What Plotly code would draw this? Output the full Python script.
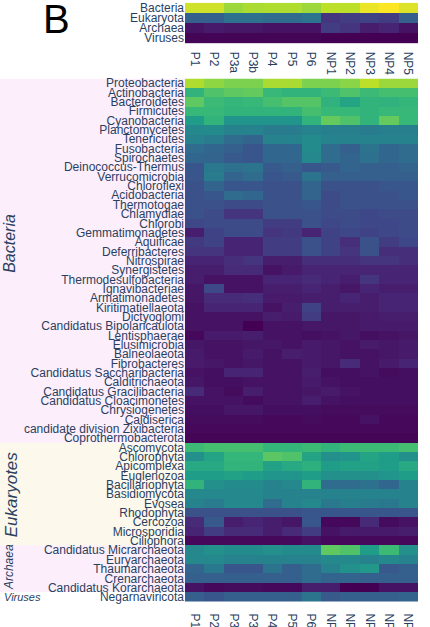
import plotly.graph_objects as go

samples = ["P1", "P2", "P3a", "P3b", "P4", "P5", "P6", "NP1", "NP2", "NP3", "NP4", "NP5"]

kingdoms = ["Bacteria", "Eukaryota", "Archaea", "Viruses"]
kingdom_vals = [
    [0.93, 0.93, 0.85, 0.87, 0.88, 0.88, 0.85, 0.90, 0.90, 0.97, 1.00, 0.95],
    [0.30, 0.30, 0.37, 0.37, 0.35, 0.35, 0.38, 0.15, 0.18, 0.20, 0.18, 0.30],
    [0.05, 0.07, 0.06, 0.06, 0.05, 0.05, 0.05, 0.18, 0.15, 0.08, 0.10, 0.05],
    [0.01, 0.01, 0.01, 0.01, 0.01, 0.01, 0.01, 0.00, 0.00, 0.00, 0.00, 0.00],
]

phyla = [
    "Proteobacteria", "Actinobacteria", "Bacteroidetes", "Firmicutes", "Cyanobacteria",
    "Planctomycetes", "Tenericutes", "Fusobacteria", "Spirochaetes", "Deinococcus-Thermus",
    "Verrucomicrobia", "Chloroflexi", "Acidobacteria", "Thermotogae", "Chlamydiae",
    "Chlorobi", "Gemmatimonadetes", "Aquificae", "Deferribacteres", "Nitrospirae",
    "Synergistetes", "Thermodesulfobacteria", "Ignavibacteriae", "Armatimonadetes",
    "Kiritimatiellaeota", "Dictyoglomi", "Candidatus Bipolaricaulota", "Lentisphaerae",
    "Elusimicrobia", "Balneolaeota", "Fibrobacteres", "Candidatus Saccharibacteria",
    "Calditrichaeota", "Candidatus Gracilibacteria", "Candidatus Cloacimonetes",
    "Chrysiogenetes", "Caldiserica", "candidate division Zixibacteria", "Coprothermobacterota",
    "Ascomycota", "Chlorophyta", "Apicomplexa", "Euglenozoa", "Bacillariophyta",
    "Basidiomycota", "Evosea", "Rhodophyta", "Cercozoa", "Microsporidia", "Ciliophora",
    "Candidatus Micrarchaeota", "Euryarchaeota", "Thaumarchaeota", "Crenarchaeota",
    "Candidatus Korarchaeota", "Negarnaviricota",
]

phyla_vals = [
    [0.88, 0.83, 0.80, 0.80, 0.87, 0.87, 0.80, 0.80, 0.82, 0.90, 0.85, 0.85],
    [0.65, 0.72, 0.75, 0.76, 0.67, 0.65, 0.65, 0.68, 0.72, 0.68, 0.70, 0.70],
    [0.75, 0.68, 0.66, 0.67, 0.70, 0.73, 0.73, 0.64, 0.58, 0.65, 0.64, 0.66],
    [0.67, 0.67, 0.65, 0.65, 0.65, 0.65, 0.70, 0.67, 0.67, 0.65, 0.67, 0.67],
    [0.55, 0.65, 0.52, 0.52, 0.52, 0.52, 0.65, 0.76, 0.72, 0.65, 0.76, 0.67],
    [0.47, 0.48, 0.45, 0.45, 0.42, 0.42, 0.45, 0.43, 0.43, 0.42, 0.43, 0.43],
    [0.45, 0.42, 0.35, 0.32, 0.45, 0.45, 0.48, 0.45, 0.45, 0.45, 0.45, 0.45],
    [0.35, 0.33, 0.30, 0.27, 0.33, 0.33, 0.48, 0.35, 0.30, 0.38, 0.33, 0.35],
    [0.33, 0.32, 0.28, 0.27, 0.33, 0.33, 0.47, 0.35, 0.32, 0.37, 0.33, 0.35],
    [0.27, 0.40, 0.37, 0.38, 0.28, 0.30, 0.27, 0.28, 0.32, 0.30, 0.30, 0.32],
    [0.27, 0.42, 0.32, 0.35, 0.27, 0.28, 0.38, 0.30, 0.30, 0.30, 0.30, 0.30],
    [0.25, 0.32, 0.27, 0.27, 0.25, 0.25, 0.32, 0.25, 0.25, 0.25, 0.27, 0.27],
    [0.25, 0.27, 0.35, 0.33, 0.25, 0.25, 0.32, 0.23, 0.25, 0.25, 0.25, 0.27],
    [0.25, 0.25, 0.23, 0.23, 0.25, 0.25, 0.27, 0.23, 0.25, 0.25, 0.25, 0.25],
    [0.25, 0.23, 0.15, 0.15, 0.25, 0.25, 0.25, 0.23, 0.23, 0.22, 0.23, 0.23],
    [0.22, 0.23, 0.23, 0.23, 0.18, 0.18, 0.25, 0.22, 0.23, 0.22, 0.22, 0.23],
    [0.08, 0.20, 0.23, 0.23, 0.15, 0.17, 0.10, 0.20, 0.22, 0.20, 0.22, 0.23],
    [0.17, 0.20, 0.10, 0.10, 0.18, 0.18, 0.25, 0.20, 0.13, 0.25, 0.18, 0.22],
    [0.15, 0.15, 0.10, 0.10, 0.18, 0.18, 0.25, 0.20, 0.15, 0.25, 0.13, 0.13],
    [0.10, 0.10, 0.13, 0.15, 0.08, 0.08, 0.13, 0.13, 0.13, 0.15, 0.15, 0.13],
    [0.08, 0.08, 0.12, 0.12, 0.05, 0.07, 0.10, 0.10, 0.10, 0.10, 0.10, 0.10],
    [0.08, 0.05, 0.05, 0.05, 0.10, 0.10, 0.12, 0.10, 0.08, 0.15, 0.10, 0.10],
    [0.06, 0.22, 0.05, 0.05, 0.08, 0.08, 0.10, 0.08, 0.06, 0.10, 0.08, 0.08],
    [0.06, 0.12, 0.12, 0.13, 0.07, 0.07, 0.08, 0.08, 0.10, 0.08, 0.10, 0.10],
    [0.05, 0.10, 0.10, 0.10, 0.05, 0.08, 0.20, 0.08, 0.08, 0.08, 0.10, 0.10],
    [0.05, 0.05, 0.05, 0.05, 0.08, 0.07, 0.18, 0.06, 0.06, 0.07, 0.08, 0.08],
    [0.05, 0.05, 0.05, 0.00, 0.05, 0.05, 0.06, 0.06, 0.06, 0.07, 0.07, 0.07],
    [0.02, 0.07, 0.07, 0.08, 0.05, 0.05, 0.04, 0.05, 0.06, 0.04, 0.05, 0.06],
    [0.06, 0.05, 0.05, 0.06, 0.06, 0.05, 0.07, 0.06, 0.05, 0.07, 0.06, 0.07],
    [0.07, 0.05, 0.05, 0.07, 0.05, 0.08, 0.07, 0.06, 0.05, 0.05, 0.06, 0.07],
    [0.07, 0.06, 0.05, 0.06, 0.05, 0.05, 0.07, 0.06, 0.12, 0.05, 0.07, 0.10],
    [0.05, 0.04, 0.10, 0.10, 0.05, 0.05, 0.08, 0.04, 0.04, 0.05, 0.03, 0.04],
    [0.06, 0.04, 0.04, 0.05, 0.05, 0.05, 0.07, 0.05, 0.04, 0.04, 0.04, 0.04],
    [0.12, 0.05, 0.03, 0.08, 0.05, 0.05, 0.06, 0.07, 0.05, 0.04, 0.04, 0.04],
    [0.05, 0.05, 0.05, 0.03, 0.05, 0.05, 0.08, 0.05, 0.04, 0.04, 0.04, 0.04],
    [0.04, 0.04, 0.06, 0.06, 0.04, 0.04, 0.04, 0.03, 0.03, 0.03, 0.03, 0.03],
    [0.03, 0.03, 0.03, 0.03, 0.02, 0.02, 0.03, 0.02, 0.02, 0.05, 0.02, 0.02],
    [0.02, 0.02, 0.02, 0.02, 0.02, 0.02, 0.02, 0.02, 0.02, 0.02, 0.02, 0.02],
    [0.01, 0.01, 0.01, 0.01, 0.01, 0.01, 0.01, 0.01, 0.01, 0.01, 0.01, 0.01],
    [0.68, 0.70, 0.70, 0.70, 0.66, 0.66, 0.68, 0.65, 0.68, 0.68, 0.68, 0.70],
    [0.50, 0.58, 0.66, 0.66, 0.74, 0.72, 0.58, 0.50, 0.52, 0.58, 0.55, 0.50],
    [0.60, 0.60, 0.65, 0.65, 0.57, 0.60, 0.63, 0.55, 0.57, 0.57, 0.55, 0.60],
    [0.55, 0.55, 0.57, 0.55, 0.52, 0.52, 0.55, 0.50, 0.50, 0.50, 0.52, 0.55],
    [0.65, 0.50, 0.48, 0.48, 0.45, 0.47, 0.65, 0.35, 0.35, 0.37, 0.33, 0.45],
    [0.47, 0.47, 0.47, 0.47, 0.45, 0.45, 0.45, 0.45, 0.45, 0.45, 0.45, 0.45],
    [0.45, 0.42, 0.47, 0.47, 0.35, 0.45, 0.47, 0.40, 0.43, 0.42, 0.40, 0.45],
    [0.25, 0.25, 0.25, 0.25, 0.25, 0.25, 0.27, 0.27, 0.27, 0.27, 0.27, 0.27],
    [0.12, 0.28, 0.08, 0.10, 0.08, 0.06, 0.27, 0.02, 0.02, 0.12, 0.03, 0.05],
    [0.10, 0.18, 0.12, 0.12, 0.08, 0.12, 0.18, 0.05, 0.07, 0.07, 0.07, 0.08],
    [0.02, 0.02, 0.02, 0.02, 0.02, 0.02, 0.05, 0.02, 0.02, 0.02, 0.02, 0.02],
    [0.47, 0.50, 0.48, 0.48, 0.50, 0.48, 0.48, 0.75, 0.72, 0.55, 0.68, 0.50],
    [0.47, 0.47, 0.45, 0.45, 0.45, 0.45, 0.45, 0.47, 0.47, 0.45, 0.47, 0.45],
    [0.32, 0.40, 0.27, 0.27, 0.38, 0.30, 0.35, 0.45, 0.50, 0.53, 0.28, 0.30],
    [0.30, 0.30, 0.30, 0.30, 0.30, 0.30, 0.35, 0.32, 0.32, 0.30, 0.30, 0.30],
    [0.05, 0.02, 0.03, 0.03, 0.02, 0.02, 0.08, 0.08, 0.00, 0.00, 0.05, 0.05],
    [0.30, 0.27, 0.30, 0.30, 0.30, 0.30, 0.38, 0.28, 0.30, 0.30, 0.30, 0.32],
]

groups = ["Bacteria", "Eukaryotes", "Archaea", "Viruses"]
group_sizes = [39, 11, 5, 1]

H = 627
W = 430
MT, MB = 0, 22
PH = H - MT - MB
PW = W - 185 - 12


def py(px):
    return (PH - px) / PH


def px_x(px):
    return (px - 185) / PW


fig = go.Figure()
fig.add_trace(go.Heatmap(
    z=kingdom_vals, x=samples, y=kingdoms, colorscale="Viridis",
    zmin=0, zmax=1, showscale=False, xaxis="x", yaxis="y",
))
fig.add_trace(go.Heatmap(
    z=phyla_vals, x=samples, y=phyla, colorscale="Viridis",
    zmin=0, zmax=1, showscale=False, xaxis="x2", yaxis="y2",
))

tickfont = dict(family="Liberation Sans, Arial, sans-serif", size=12, color="#2a3f5f")
common = dict(showgrid=False, zeroline=False, automargin=False, tickfont=tickfont,
              tickmode="array")
xticks = dict(ticks="outside", ticklen=5, tickcolor="rgba(0,0,0,0)", tickangle=90)

fig.update_layout(
    width=W, height=H,
    margin=dict(l=185, r=12, t=MT, b=MB, autoexpand=False),
    paper_bgcolor="white", plot_bgcolor="white",
    xaxis=dict(domain=[0, 1], anchor="y", tickvals=samples, ticktext=samples, **xticks, **common),
    yaxis=dict(domain=[py(43.3), py(2.7)], autorange="reversed", tickvals=kingdoms,
               ticktext=kingdoms, ticks="", **common),
    xaxis2=dict(domain=[0, 1], anchor="y2", tickvals=samples, ticktext=samples, **xticks, **common),
    yaxis2=dict(domain=[py(605), py(78.5)], autorange="reversed", tickvals=phyla,
                ticktext=phyla, ticks="", **common),
)

bg_colors = ["#fdeefb", "#fdf8ec", "#fdeefb", "#ffffff"]
start = 0
centers = []
for g, n, c in zip(groups, group_sizes, bg_colors):
    fig.add_shape(type="rect", xref="paper", yref="y2",
                  x0=px_x(0), x1=0, y0=start - 0.5, y1=start + n - 0.5,
                  fillcolor=c, line_width=0, layer="below")
    centers.append(start + (n - 1) / 2)
    start += n

gfont = dict(family="Liberation Sans, Arial, sans-serif", color="#2a3f5f")
label_specs = [
    (groups[0], 16, -90, 10, -1.8),
    (groups[1], 17, -90, 11, 0.0),
    (groups[2], 12, -90, 9, -0.2),
    (groups[3], 11, 0, 22, 0.0),
]
for (txt, size, ang, xc, dy), cy in zip(label_specs, centers):
    fig.add_annotation(
        text="<i>%s</i>" % txt, xref="paper", yref="y2",
        x=px_x(xc), y=cy + dy,
        showarrow=False, textangle=ang,
        font=dict(size=size, **gfont), xanchor="center", yanchor="middle",
    )

fig.add_annotation(text="B", xref="paper", yref="paper", x=px_x(56), y=py(19),
                   showarrow=False, font=dict(family="Liberation Sans, Arial, sans-serif",
                                              size=40, color="black"),
                   xanchor="center", yanchor="middle")

fig.write_html(
    "out.html",
    config={"displayModeBar": False},
    post_script="document.body.style.margin='0px';document.body.style.overflow='hidden';",
)
